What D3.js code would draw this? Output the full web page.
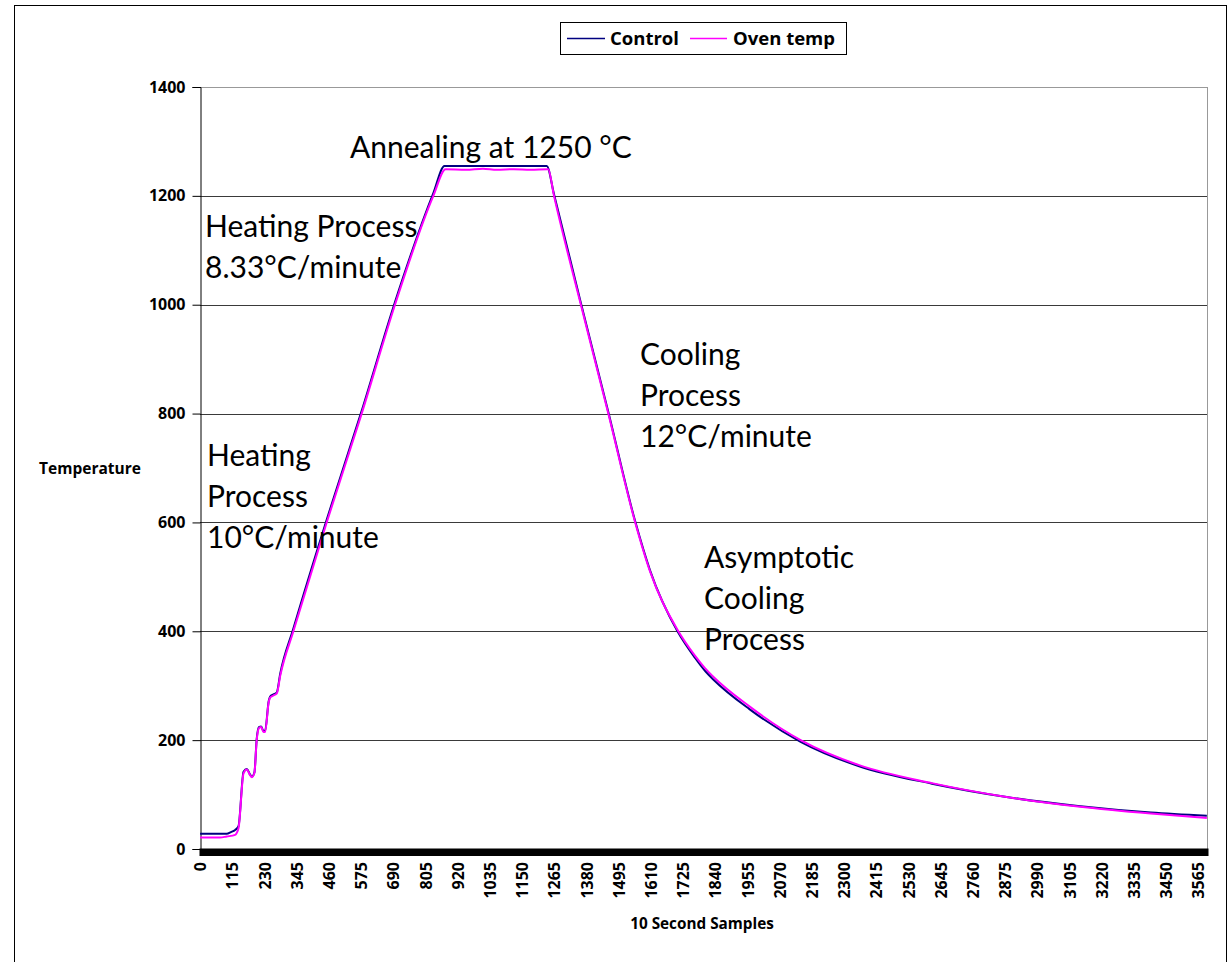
<!DOCTYPE html>
<html><head><meta charset="utf-8">
<script src="https://cdn.jsdelivr.net/npm/d3@7"></script>
<style>
body{margin:0;background:#fff;}
svg{display:block;}
</style></head>
<body><svg id="c" width="1229" height="962"></svg>
<script>
// ---- data (sample index, temperature) ----
const sampleCount = 3597;
const xTickLabels = [0,115,230,345,460,575,690,805,920,1035,1150,1265,1380,1495,1610,1725,1840,1955,2070,2185,2300,2415,2530,2645,2760,2875,2990,3105,3220,3335,3450,3565];
const yTickValues = [0,200,400,600,800,1000,1200,1400];
const seriesNames = ["Control","Oven temp"];
const seriesColors = ["#000080","#FF00FF"];

const controlSamples = [0,60,95,110,125,137,155,167,178,185,194,202,210,218,226,232,245,250,262,274,286,333,452,577,696,833,873,1000,1100,1238,1264,1360,1458,1554,1607,1705,1768,1804,1832,1962,2145,2354,2614,2875,3136,3396,3596];
const controlValues  = [28,28,28,31,35,42,142,147,137,133,141,202,224,225,217,217,272,280,284,288,322,405,605,805,1005,1205,1255,1255,1255,1255,1203,1003,803,602,512,400,351,327,312,257,197,152,120,96,79,67,61];

const ovenSamples = [0,71,95,125,137,155,167,178,185,194,202,210,218,226,232,245,250,262,274,286,333,452,577,696,833,877,950,1010,1060,1120,1180,1243,1264,1360,1458,1554,1607,1705,1768,1804,1832,1962,2145,2354,2614,2875,3136,3396,3596];
const ovenValues  = [21,21,23,26,38,139,146,136,132,140,200,222,224,215,215,270,278,282,286,318,400,600,800,1000,1200,1249,1248,1250,1248,1249,1248,1249,1200,1000,800,600,510,403,355,332,317,262,200,154,121,96,78,65,57];

const annotations = [
  {lines:["Annealing at 1250 °C"], x:350, y:158},
  {lines:["Heating Process","8.33°C/minute"], x:205, y:237},
  {lines:["Heating","Process","10°C/minute"], x:207, y:466},
  {lines:["Cooling","Process","12°C/minute"], x:640, y:365},
  {lines:["Asymptotic","Cooling","Process"], x:704, y:568}
];

// ---- drawing ----
const svg = d3.select("#c");
const L = 200, R = 1207, T = 87, B = 849;
const x = d3.scaleLinear().domain([0, sampleCount]).range([L, R]);
const y = d3.scaleLinear().domain([0, 1400]).range([B, T]);
const font = "Lato, 'Open Sans', 'DejaVu Sans', sans-serif";
const boldFont = "'Open Sans', 'DejaVu Sans', sans-serif";

// outer frame
svg.append("rect").attr("x",14.5).attr("y",5.5).attr("width",1212).attr("height",970)
  .attr("fill","none").attr("stroke","#000").attr("stroke-width",1);

// gridlines
svg.append("g").selectAll("line").data(yTickValues.filter(v=>v>0)).join("line")
  .attr("x1",L).attr("x2",R).attr("y1",d=>Math.round(y(d))+0.5).attr("y2",d=>Math.round(y(d))+0.5)
  .attr("stroke",d=>d===1400?"#999":"#3a3a3a").attr("stroke-width",1);
// right border
svg.append("line").attr("x1",R+0.5).attr("x2",R+0.5).attr("y1",T).attr("y2",B)
  .attr("stroke","#999");

// y axis
const yAxis = svg.append("g").attr("transform",`translate(${L+0.5},0)`)
  .call(d3.axisLeft(y).tickValues(yTickValues).tickSize(8).tickPadding(7).tickFormat(d3.format("d")));
yAxis.select(".domain").attr("stroke","#000");
yAxis.selectAll("line").attr("stroke","#000");
yAxis.selectAll("text").attr("font-family",boldFont).attr("font-weight","bold").attr("font-size",16).attr("fill","#000");

// x axis: dense category tick band
const allCats = d3.range(sampleCount);
const xBand = svg.append("g").attr("transform",`translate(0,${B})`)
  .call(d3.axisBottom(x).tickValues(allCats.map(d=>d+0.5)).tickSize(7).tickFormat(""));
xBand.select(".domain").attr("stroke","#000").attr("stroke-width",2);
xBand.selectAll("line").attr("stroke","#000").attr("stroke-width",1);

// x axis labels
const xLab = svg.append("g").attr("transform",`translate(0,${B})`)
  .call(d3.axisBottom(x).tickValues(xTickLabels.map(d=>d+0.5)).tickSize(0).tickFormat(d=>String(d-0.5)));
xLab.select(".domain").remove();
xLab.selectAll("text").attr("font-family",boldFont).attr("font-weight","bold").attr("font-size",16).attr("fill","#000")
  .attr("text-anchor","end").attr("dy","0.35em").attr("y",0)
  .attr("transform","translate(0,13) rotate(-90)");

// axis titles
svg.append("text").attr("x",90).attr("y",474).attr("text-anchor","middle")
  .attr("font-family",boldFont).attr("font-weight","bold").attr("font-size",15.5).text("Temperature");
svg.append("text").attr("x",702).attr("y",929).attr("text-anchor","middle")
  .attr("font-family",boldFont).attr("font-weight","bold").attr("font-size",15.3).text("10 Second Samples");

// lines
const line = d3.line().x(d=>x(d[0]+0.5)).y(d=>y(d[1])).curve(d3.curveMonotoneX);
const controlData = controlSamples.map((s,i)=>[s,controlValues[i]]);
const ovenData = ovenSamples.map((s,i)=>[s,ovenValues[i]]);
svg.append("path").datum(controlData).attr("d",line).attr("fill","none")
  .attr("stroke",seriesColors[0]).attr("stroke-width",2).attr("stroke-linejoin","round");
svg.append("path").datum(ovenData).attr("d",line).attr("fill","none")
  .attr("stroke",seriesColors[1]).attr("stroke-width",2).attr("stroke-linejoin","round");

// annotations
annotations.forEach(a=>{
  const t = svg.append("text").attr("font-family",font).attr("font-size",30).attr("fill","#000");
  a.lines.forEach((ln,i)=>t.append("tspan").attr("x",a.x).attr("y",a.y+i*41).text(ln));
});

// legend
const lg = svg.append("g");
lg.append("rect").attr("x",560.5).attr("y",22.5).attr("width",286).attr("height",32)
  .attr("fill","#fff").attr("stroke","#000").attr("stroke-width",1);
const legendX = [[567,605,610],[690,727,733]];
seriesNames.forEach((n,i)=>{
  lg.append("line").attr("x1",legendX[i][0]).attr("x2",legendX[i][1]).attr("y1",38.5).attr("y2",38.5)
    .attr("stroke",seriesColors[i]).attr("stroke-width",1.5);
  lg.append("text").attr("x",legendX[i][2]).attr("y",45).attr("font-family",boldFont)
    .attr("font-weight","bold").attr("font-size",18.5).text(n);
});
</script></body></html>
